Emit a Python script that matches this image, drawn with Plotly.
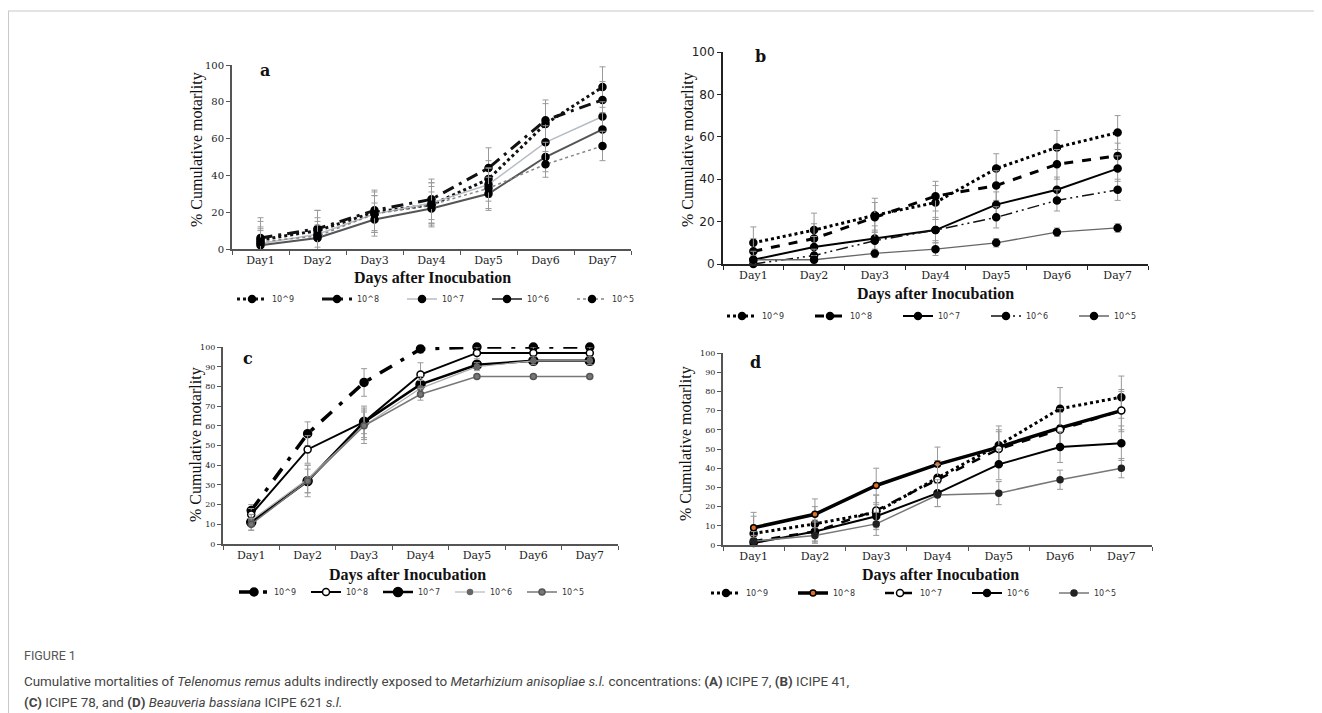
import plotly.graph_objects as go

# page body has an 8px margin; the figure is offset by it inside the 1322x713 window
OFF = 8
W, H = 1322 - 2 * OFF, 713 - OFF

days = ["Day1", "Day2", "Day3", "Day4", "Day5", "Day6", "Day7"]
series_names = ["10^9", "10^8", "10^7", "10^6", "10^5"]

# Panel a
a_1e9 = [5, 10, 20, 24, 38, 68, 88]
a_1e8 = [6, 11, 21, 27, 44, 70, 81]
a_1e7 = [3, 8, 19, 25, 35, 58, 72]
a_1e6 = [2, 6, 16, 22, 30, 50, 65]
a_1e5 = [4, 7, 19, 24, 33, 46, 56]
a_err = [[10, 11, 11, 12, 10, 11, 11],
         [11, 10, 11, 11, 11, 11, 10],
         [9, 9, 10, 11, 9, 9, 8],
         [8, 7, 9, 9, 9, 8, 9],
         [7, 8, 10, 10, 11, 7, 8]]

# Panel b
b_1e9 = [10, 16, 23, 29, 45, 55, 62]
b_1e8 = [6, 12, 22, 32, 37, 47, 51]
b_1e7 = [2, 8, 12, 16, 28, 35, 45]
b_1e6 = [0, 4, 11, 16, 22, 30, 35]
b_1e5 = [2, 2, 5, 7, 10, 15, 17]
b_err = [[7.5, 8, 8, 8, 7, 8, 8],
         [6, 7, 7, 7, 7, 7, 6],
         [4, 5, 6, 6, 6, 6, 6],
         [2, 3, 5, 5, 5, 5, 5],
         [2, 2, 2, 3, 2, 2, 2]]

# Panel c
c_1e9 = [17, 56, 82, 99, 100, 100, 100]
c_1e8 = [15, 48, 62, 86, 97, 97, 97]
c_1e7 = [11, 32, 62, 81, 91, 93, 93]
c_1e6 = [12, 33, 60, 79, 90, 93, 93]
c_1e5 = [10, 32, 60, 76, 85, 85, 85]
c_err = [[3, 6, 7, 2, 1, 1, 1],
         [3, 7, 6, 6, 3, 3, 3],
         [4, 8, 8, 4, 2, 2, 2],
         [3, 7, 7, 4, 2, 2, 2],
         [3, 6, 9, 3, 1, 1, 1]]

# Panel d
d_1e9 = [6, 11, 17, 35, 52, 71, 77]
d_1e8 = [9, 16, 31, 42, 51, 61, 70]
d_1e7 = [2, 7, 18, 34, 50, 60, 70]
d_1e6 = [1, 7, 15, 27, 42, 51, 53]
d_1e5 = [2, 5, 11, 26, 27, 34, 40]
d_err = [[9, 9, 9, 9, 10, 11, 11],
         [8, 8, 9, 9, 9, 10, 11],
         [5, 6, 8, 8, 9, 9, 10],
         [3, 5, 6, 7, 8, 8, 9],
         [3, 4, 6, 6, 6, 5, 5]]

panel_letters = ["a", "b", "c", "d"]
x_title = "Days after Inocubation"
y_title = "% Cumulative motarlity"
caption_head = "FIGURE 1"
caption_l1 = ("Cumulative mortalities of <i>Telenomus remus</i> adults indirectly exposed to "
              "<i>Metarhizium anisopliae s.l.</i> concentrations: <b>(A)</b> ICIPE 7, <b>(B)</b> ICIPE 41,")
caption_l2 = "<b>(C)</b> ICIPE 78, and <b>(D)</b> <i>Beauveria bassiana</i> ICIPE 621 <i>s.l.</i>"


def px(x):
    return (x - OFF) / W


def py(y):
    return 1 - (y - OFF) / H


# style: (color, width, dash, marker_color, marker_line, marker_size)
styles = {
    "a": [("#111", 3, "dot", "#000", "#000", 7),
          ("#111", 3, "12px,6px,3px,6px", "#000", "#000", 7),
          ("#b4bcc4", 1.5, "solid", "#000", "#000", 7),
          ("#555", 2, "solid", "#000", "#000", 7),
          ("#888", 1.5, "dot", "#000", "#000", 7)],
    "b": [("#000", 3, "dot", "#000", "#000", 7),
          ("#000", 3, "dash", "#000", "#000", 7),
          ("#000", 2, "solid", "#000", "#000", 7),
          ("#111", 1.5, "12px,4px,2px,4px,2px,4px", "#000", "#000", 7),
          ("#666", 1.3, "solid", "#000", "#000", 7)],
    "c": [("#000", 3.5, "14px,10px,4px,10px", "#000", "#000", 8),
          ("#000", 2, "solid", "#fff", "#000", 7),
          ("#000", 2.5, "solid", "#000", "#000", 9),
          ("#aaa", 1.2, "solid", "#666", "#666", 5),
          ("#777", 1.5, "solid", "#777", "#555", 6)],
    "d": [("#000", 3, "dot", "#000", "#000", 7),
          ("#000", 3.5, "solid", "#e07020", "#000", 6),
          ("#000", 2.5, "dash", "#fff", "#000", 7),
          ("#000", 2, "solid", "#000", "#000", 7),
          ("#777", 1.5, "solid", "#222", "#222", 6)],
}

panels = {
    "a": dict(data=[a_1e9, a_1e8, a_1e7, a_1e6, a_1e5], err=a_err,
              xd=[232, 631], y0=249, y100=65, dtick=20,
              legend=(232, 299, 40), yfont=10, tfont="DejaVu Serif",
              letter=(265, 70), xt=(432, 278), ytp=(197, 150)),
    "b": dict(data=[b_1e9, b_1e8, b_1e7, b_1e6, b_1e5], err=b_err,
              xd=[723, 1148], y0=264, y100=52, dtick=20,
              legend=(722, 316, 43), yfont=12, tfont="DejaVu Sans",
              letter=(760, 57), xt=(935, 294), ytp=(688, 150)),
    "c": dict(data=[c_1e9, c_1e8, c_1e7, c_1e6, c_1e5], err=c_err,
              xd=[223, 618], y0=544, y100=347, dtick=10,
              legend=(234, 592, 27), yfont=8, tfont="DejaVu Serif",
              letter=(248, 358), xt=(408, 575), ytp=(196, 445)),
    "d": dict(data=[d_1e9, d_1e8, d_1e7, d_1e6, d_1e5], err=d_err,
              xd=[723, 1152], y0=545, y100=353, dtick=10,
              legend=(706, 593, 42), yfont=8, tfont="DejaVu Serif",
              letter=(755, 363), xt=(940, 575), ytp=(686, 444)),
}

fig = go.Figure()
layout = dict(width=W, height=H,
              margin=dict(l=0, r=0, t=0, b=0, pad=0, autoexpand=False),
              paper_bgcolor="white", plot_bgcolor="white", showlegend=True)
annotations = []


def note(text, x, y, size, family, color="#111", angle=0, xanchor="center"):
    annotations.append(dict(text=text, x=px(x), y=py(y), xref="paper", yref="paper",
                            xanchor=xanchor, yanchor="middle", showarrow=False,
                            textangle=angle, font=dict(family=family, size=size, color=color)))


for i, key in enumerate(["a", "b", "c", "d"]):
    p = panels[key]
    sfx = "" if i == 0 else str(i + 1)
    xa, ya = "x" + sfx, "y" + sfx
    leg = "legend" + sfx
    linecol = "#222" if key == "b" else "#555"
    for j, (vals, errs) in enumerate(zip(p["data"], p["err"])):
        col, wd, dash, mcol, mline, msz = styles[key][j]
        fig.add_trace(go.Scatter(
            x=days, y=vals, name=series_names[j], mode="lines+markers",
            line=dict(color=col, width=wd, dash=dash),
            marker=dict(color=mcol, size=msz, line=dict(color=mline, width=1.5)),
            error_y=dict(type="data", array=errs, visible=True, color="#9a9a9a",
                         thickness=1, width=3),
            xaxis=xa, yaxis=ya, legend=leg, cliponaxis=False))
    layout["xaxis" + sfx] = dict(
        domain=[px(p["xd"][0]), px(p["xd"][1])], anchor=ya, type="category",
        categoryorder="array", categoryarray=days, range=[-0.5, 6.5],
        tickson="boundaries", ticks="outside", ticklen=4, tickcolor=linecol,
        showline=True, linecolor=linecol, linewidth=2, showgrid=False,
        zeroline=False, fixedrange=True, automargin=False,
        tickfont=dict(family="DejaVu Serif", size=11, color="#222"))
    layout["yaxis" + sfx] = dict(
        domain=[py(p["y0"]), py(p["y100"])], anchor=xa, range=[0, 100],
        dtick=p["dtick"], ticks="outside", ticklen=4, tickcolor=linecol,
        showline=True, linecolor=linecol, linewidth=2, showgrid=False,
        zeroline=False, fixedrange=True, automargin=False,
        tickfont=dict(family=p["tfont"], size=p["yfont"], color="#222"))
    lx, ly, ew = p["legend"]
    layout[leg] = dict(x=px(lx), y=py(ly), xanchor="left", yanchor="middle",
                       orientation="h", entrywidth=ew, entrywidthmode="pixels",
                       itemwidth=30, bgcolor="rgba(0,0,0,0)",
                       font=dict(family="DejaVu Sans", size=8, color="#333"),
                       tracegroupgap=0)
    note("<b>%s</b>" % panel_letters[i], p["letter"][0], p["letter"][1], 16, "DejaVu Serif")
    note("<b>%s</b>" % x_title, p["xt"][0], p["xt"][1], 16, "Liberation Serif")
    note(y_title, p["ytp"][0], p["ytp"][1], 16, "Liberation Serif", angle=-90)

cap_font = "Roboto, Liberation Sans"
note(caption_head, 22, 655, 12.5, cap_font, color="#555", xanchor="left")
note(caption_l1, 22, 681, 13.4, cap_font, color="#444", xanchor="left")
note(caption_l2, 22, 702, 13.4, cap_font, color="#444", xanchor="left")

layout["annotations"] = annotations
layout["shapes"] = [
    dict(type="line", xref="paper", yref="paper", x0=0, x1=1, y0=py(11), y1=py(11),
         line=dict(color="#c8c8c8", width=1)),
    dict(type="line", xref="paper", yref="paper", x0=px(8.5), x1=px(8.5), y0=py(11), y1=0,
         line=dict(color="#c8c8c8", width=1)),
]
fig.update_layout(**layout)
fig.write_html("out.html")
